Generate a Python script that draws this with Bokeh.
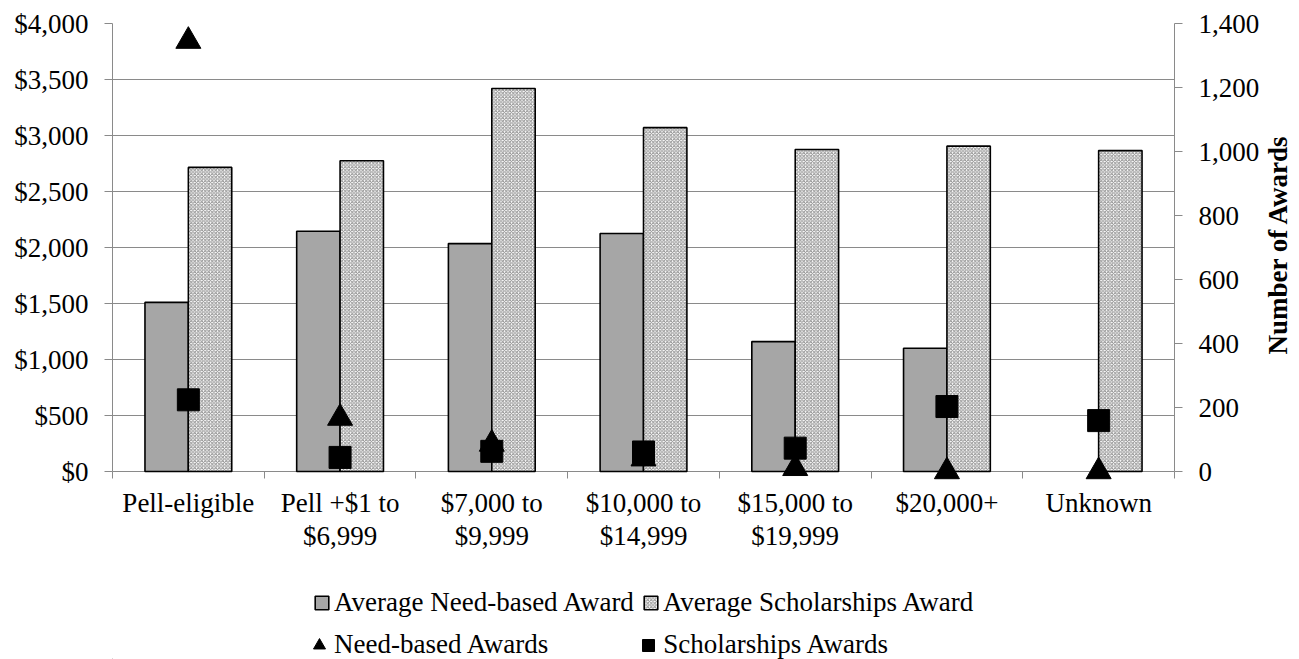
import math

from bokeh.embed import file_html
from bokeh.resources import INLINE
from bokeh.plotting import figure
from bokeh.layouts import column
from bokeh.models import (ColumnDataSource, Range1d, LinearAxis, FixedTicker,
                          SingleIntervalTicker, NumeralTickFormatter, Legend,
                          LegendItem)

# ---- data -----------------------------------------------------------------
categories = ["Pell-eligible", "Pell +$1 to\n$6,999", "$7,000 to\n$9,999",
              "$10,000 to\n$14,999", "$15,000 to\n$19,999", "$20,000+", "Unknown"]
avg_need_award = [1510, 2145, 2035, 2125, 1160, 1100, float("nan")]
avg_scholarship_award = [2715, 2775, 3420, 3070, 2875, 2905, 2865]
need_awards = [1345, 167, 86, 40, 10, 0, 0]
scholarship_awards = [224, 44, 63, 61, 73, 203, 159]
series_names = ["Average Need-based Award", "Average Scholarships Award",
                "Need-based Awards", "Scholarships Awards"]
right_title = "Number of Awards"

FONT = "Liberation Serif"
FS = "27px"
GRID = "#8a8a8a"
n = len(categories)
centers = [i + 0.5 for i in range(n)]
bar_w = 0.286

NEED_BAR = dict(fill_color="#a6a6a6", line_color="black", line_width=1.6)
SCH_BAR = dict(fill_color="white", line_color="black", line_width=1.6,
               hatch_pattern="diagonal_cross", hatch_scale=3.5,
               hatch_weight=1, hatch_color="#8f8f8f")
TRI = dict(marker="triangle", size=25, fill_color="black", line_color="black")
SQ = dict(marker="square", size=22, fill_color="black", line_color="black")

# a little room under zero so markers sitting on the baseline are not cut
Y_MAX, Y2_MAX = 4000, 1400
pad = 125
src = ColumnDataSource(dict(
    xc=centers,
    x_need=[c - bar_w / 2 for c in centers],
    x_sch=[c + bar_w / 2 for c in centers],
    need=avg_need_award,
    sch=avg_scholarship_award,
    n_need=need_awards,
    n_sch=scholarship_awards,
))

TOP, FRAME_W, FRAME_H, BOTTOM = 23, 1062, 462, 75
p = figure(frame_width=FRAME_W, frame_height=FRAME_H, output_backend="svg",
           toolbar_location=None,
           x_range=Range1d(0, n), y_range=Range1d(-pad, Y_MAX),
           min_border_left=112, min_border_right=125, min_border_top=TOP,
           min_border_bottom=BOTTOM)
y2_lo = -pad * Y2_MAX / Y_MAX
p.extra_y_ranges = {"awards": Range1d(y2_lo, Y2_MAX)}
p.outline_line_color = None
p.background_fill_color = "white"

# ---- category axis: two stacked axes give the two label lines -------------
first_lines = [c.split("\n")[0] for c in categories]
second_lines = [c.split("\n")[1] if "\n" in c else "" for c in categories]

xa = p.xaxis[0]
xa.ticker = FixedTicker(ticks=centers, minor_ticks=list(range(n + 1)))
xa.major_label_overrides = {c: lab for c, lab in zip(centers, first_lines)}
xa.axis_line_color = None
xa.major_tick_line_color = None
xa.major_tick_out = 0
xa.major_tick_in = 0
xa.minor_tick_in = 14
xa.minor_tick_out = -7
xa.minor_tick_line_color = GRID
xa.major_label_standoff = 2
xa.major_label_text_font = FONT
xa.major_label_text_font_size = FS
xa.major_label_text_color = "black"

xb = LinearAxis(ticker=FixedTicker(ticks=centers),
                major_label_overrides={c: lab for c, lab in zip(centers, second_lines)})
xb.axis_line_color = None
xb.major_tick_line_color = None
xb.minor_tick_line_color = None
xb.major_tick_out = 0
xb.major_tick_in = 0
xb.minor_tick_out = 0
xb.minor_tick_in = 0
xb.major_label_standoff = 0
xb.major_label_text_font = FONT
xb.major_label_text_font_size = FS
xb.major_label_text_color = "black"
p.add_layout(xb, "below")

ya = p.yaxis[0]
ya.ticker = SingleIntervalTicker(interval=500)
ya.formatter = NumeralTickFormatter(format="$0,0")
ya.bounds = (0, Y_MAX)
ya.axis_line_color = GRID
ya.major_tick_line_color = GRID
ya.major_tick_out = 8
ya.major_tick_in = 0
ya.minor_tick_line_color = None
ya.major_label_standoff = 16
ya.major_label_text_font = FONT
ya.major_label_text_font_size = FS
ya.major_label_text_color = "black"

ra = LinearAxis(y_range_name="awards", ticker=SingleIntervalTicker(interval=200),
                formatter=NumeralTickFormatter(format="0,0"))
ra.bounds = (0, Y2_MAX)
ra.axis_line_color = GRID
ra.major_tick_line_color = GRID
ra.major_tick_out = 8
ra.major_tick_in = 0
ra.minor_tick_line_color = None
ra.major_label_standoff = 16
ra.major_label_text_font = FONT
ra.major_label_text_font_size = FS
ra.major_label_text_color = "black"
p.add_layout(ra, "right")

# right-hand title, reading bottom to top; the rotated label starts at its
# anchor, so the anchor sits half a title length below the axis middle
px_per_award = FRAME_H / (Y2_MAX - y2_lo)
title_len_px = 214
title_anchor = Y2_MAX / 2 - (title_len_px / 2) / px_per_award
rt = LinearAxis(y_range_name="awards", ticker=FixedTicker(ticks=[title_anchor]),
                major_label_overrides={title_anchor: right_title})
rt.axis_line_color = None
rt.major_tick_line_color = None
rt.minor_tick_line_color = None
rt.major_tick_out = 0
rt.major_tick_in = 0
rt.minor_tick_out = 0
rt.minor_tick_in = 0
rt.major_label_standoff = 15
rt.major_label_orientation = math.pi / 2
rt.major_label_text_font = FONT
rt.major_label_text_font_size = FS
rt.major_label_text_font_style = "bold"
rt.major_label_text_color = "black"
p.add_layout(rt, "right")

p.xgrid.grid_line_color = None
p.ygrid.grid_line_color = GRID
p.ygrid.grid_line_width = 1
p.ygrid.ticker = SingleIntervalTicker(interval=500)

# ---- bars -----------------------------------------------------------------
p.vbar(x="x_need", top="need", width=bar_w, bottom=0, source=src, **NEED_BAR)
p.vbar(x="x_sch", top="sch", width=bar_w, bottom=0, source=src, **SCH_BAR)

# ---- award counts on the secondary axis -----------------------------------
p.scatter(x="xc", y="n_need", y_range_name="awards", source=src, **TRI)
p.scatter(x="xc", y="n_sch", y_range_name="awards", source=src, **SQ)

# ---- legend strip underneath ----------------------------------------------
lg = figure(width=1299, height=659 - (TOP + FRAME_H + BOTTOM), output_backend="svg",
            toolbar_location=None, x_range=Range1d(0, 1), y_range=Range1d(0, 1),
            x_axis_type=None, y_axis_type=None, min_border=0)
lg.outline_line_color = None
lg.xgrid.grid_line_color = None
lg.ygrid.grid_line_color = None
# key glyphs sit outside the strip's range; only their legend swatches show
off = ColumnDataSource(dict(x=[-5], y=[-5], top=[-5]))
k1 = lg.vbar(x="x", top="top", width=0.1, source=off, **NEED_BAR)
k2 = lg.vbar(x="x", top="top", width=0.1, source=off, **SCH_BAR)
k3 = lg.scatter(x="x", y="y", source=off, **TRI)
k4 = lg.scatter(x="x", y="y", source=off, **SQ)


def styled_legend(items, glyph, standoff, spacing, loc):
    leg = Legend(items=[LegendItem(label=s, renderers=[r]) for s, r in items],
                 orientation="horizontal")
    leg.location = loc
    leg.label_text_font = FONT
    leg.label_text_font_size = FS
    leg.label_text_color = "black"
    leg.label_standoff = standoff
    leg.glyph_width = glyph
    leg.glyph_height = glyph
    leg.spacing = spacing
    leg.padding = 0
    leg.margin = 0
    leg.border_line_color = None
    leg.background_fill_alpha = 0
    return leg


# bar swatches on the first row, marker keys on the second
lg.add_layout(styled_legend(list(zip(series_names[:2], [k1, k2])),
                            17, 4, 8, (201, 41)))
lg.add_layout(styled_legend(list(zip(series_names[2:], [k3, k4])),
                            30, 0, 85, (192, -1)))

open("out.html", "w").write(file_html(column(p, lg, spacing=0), INLINE))
